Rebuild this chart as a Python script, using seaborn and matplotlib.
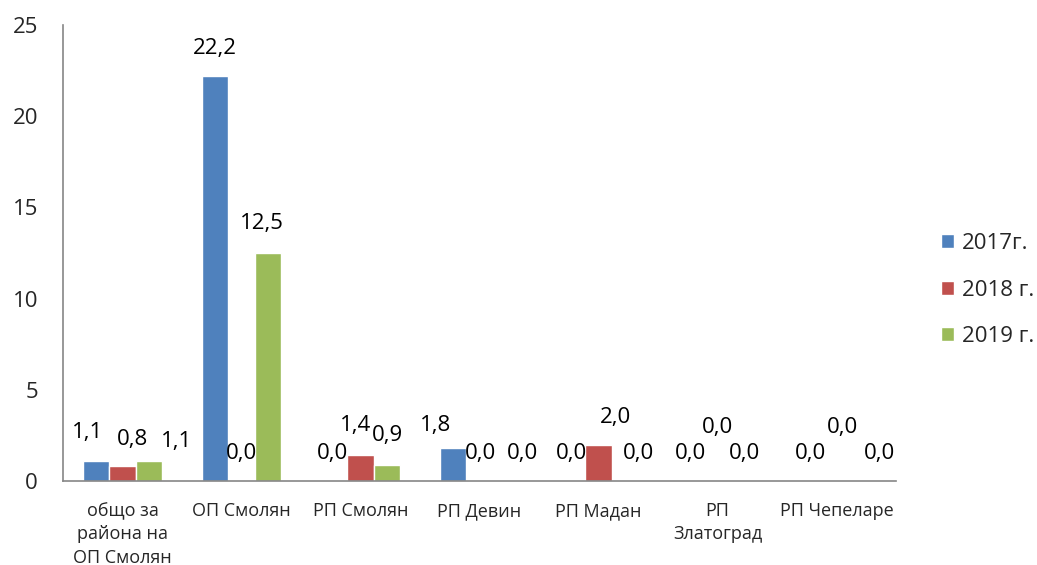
import numpy as np
import pandas as pd
import matplotlib
matplotlib.use('Agg')
import matplotlib.pyplot as plt
import seaborn as sns

# Data
categories = ['общо за\nрайона на\nОП Смолян', 'ОП Смолян', 'РП Смолян', 'РП Девин',
              'РП Мадан', 'РП\nЗлатоград', 'РП Чепеларе']
years = ['2017г.', '2018 г.', '2019 г.']
values_2017 = [1.1, 22.2, 0.0, 1.8, 0.0, 0.0, 0.0]
values_2018 = [0.8, 0.0, 1.4, 0.0, 2.0, 0.0, 0.0]
values_2019 = [1.1, 12.5, 0.9, 0.0, 0.0, 0.0, 0.0]
colors = ['#4F81BD', '#C0504D', '#9BBB59']

# label nudges in pixels (dx, dy above bar top), mimicking Excel's placement
label_dx = [[-8, 0, -1, -17, 0, 0, 1],
            [10, 0, -5, 1, 17, 0, 6],
            [27, -6, 0, 16, 13, 0, 16]]
label_dy = [[28, 28, 28, 23, 28, 28, 28],
            [27, 28, 30, 28, 27, 54, 54],
            [19, 29, 29, 28, 28, 28, 28]]

df = pd.DataFrame({
    'category': categories * 3,
    'year': [y for y in years for _ in categories],
    'value': values_2017 + values_2018 + values_2019,
})

sns.set_style('white')
plt.rcParams['font.family'] = ['Open Sans', 'DejaVu Sans']

fig = plt.figure(figsize=(10.37, 5.65), dpi=100)
ax = fig.add_axes([63 / 1037, 1 - 481 / 565, 833 / 1037, 456 / 565])

sns.barplot(data=df, x='category', y='value', hue='year', palette=colors,
            width=0.67, gap=0, ax=ax, legend=True, saturation=1)

px = 72 / 100
for i, cont in enumerate(ax.containers):
    for j, bar in enumerate(cont):
        h = bar.get_height()
        ax.annotate(f'{h:.1f}'.replace('.', ','),
                    (bar.get_x() + bar.get_width() / 2, h),
                    xytext=(label_dx[i][j] * px, label_dy[i][j] * px),
                    textcoords='offset points', ha='center', va='center',
                    fontsize=16, color='black')

ax.set_ylim(0, 25)
ax.set_xlim(-0.5, len(categories) - 0.5)
ax.set_yticks(range(0, 26, 5))
ax.set_xlabel('')
ax.set_ylabel('')
ax.set_xticks(np.arange(len(categories) + 1) - 0.5, minor=True)
ax.tick_params(axis='x', which='major', length=0, pad=15, labelsize=13)
ax.tick_params(axis='x', which='minor', length=7, width=1.2, color='#868686', direction='out')
ax.tick_params(axis='y', length=6, width=1.2, color='#868686', direction='out', pad=12,
               labelsize=16)
for lbl in ax.get_xticklabels():
    lbl.set_linespacing(1.4)
    lbl.set_va('top')
for s in ['top', 'right']:
    ax.spines[s].set_visible(False)
for s in ['left', 'bottom']:
    ax.spines[s].set_color('#868686')
    ax.spines[s].set_linewidth(1.2)
ax.grid(False)

handles, labels = ax.get_legend_handles_labels()
ax.legend_.remove()
fig.legend(handles, labels, loc='center left', bbox_to_anchor=(941 / 1037, 1 - 290 / 565),
           frameon=False, fontsize=16, handlelength=0.6, handleheight=0.6,
           handletextpad=0.35, labelspacing=1.15, borderpad=0, borderaxespad=0)

fig.savefig('out.png', dpi=100)
